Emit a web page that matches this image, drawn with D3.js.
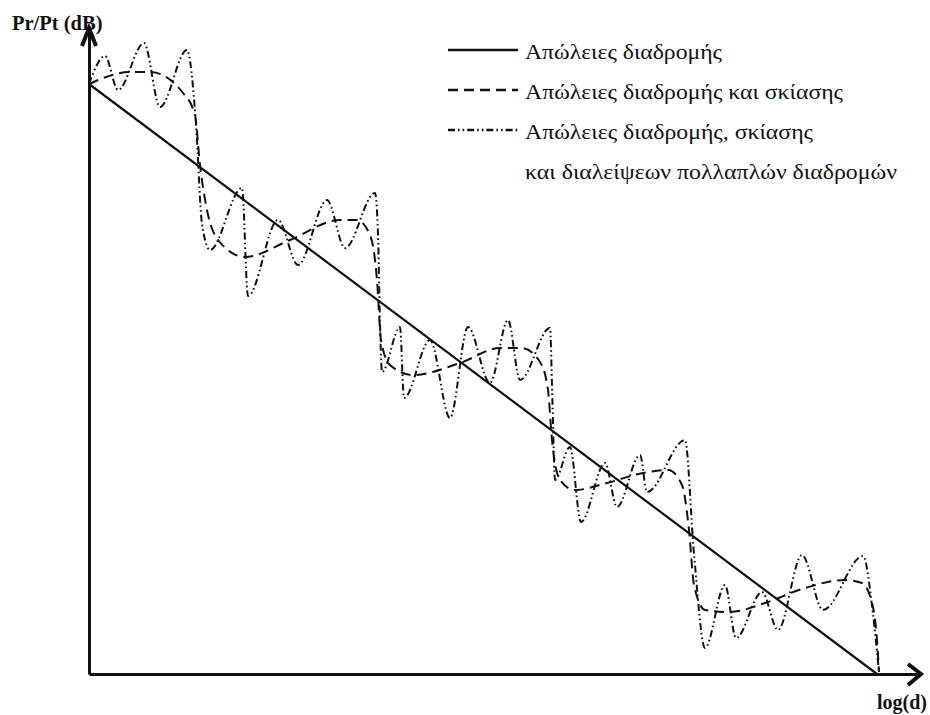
<!DOCTYPE html>
<html>
<head>
<meta charset="utf-8">
<script src="https://cdn.jsdelivr.net/npm/d3@7"></script>
<style>
  html, body { margin: 0; padding: 0; background: #ffffff; }
  svg { display: block; }
  svg text { font-family: "Liberation Serif", "DejaVu Serif", "Times New Roman", serif; }
</style>
</head>
<body>
<svg id="chart" width="930" height="715"></svg>
<script>
// ---------------- DATA (x = log(d) units, y = Pr/Pt in dB) ----------------
const pathLossX = [0, 7.88];
const pathLossY = [0, -59];

const shadowX = [0, 0.41, 0.61, 0.94, 1.06, 1.11, 1.17, 1.29, 1.56, 2.01, 2.51, 2.68, 2.81, 2.88, 2.92, 3.01,
  3.24, 3.71, 4.11, 4.33, 4.51, 4.59, 4.63, 4.71, 4.86, 5.18, 5.54, 5.79, 5.93, 6.00, 6.05, 6.16,
  6.41, 6.76, 7.16, 7.56, 7.73, 7.83, 7.88, 7.90];
const shadowY = [0, 1.2, 1.2, -0.9, -3.1, -8.1, -12.1, -15.6, -17.3, -15.6, -13.6, -13.6, -15.1, -19.6, -25.6, -28.1,
  -29.1, -27.9, -26.4, -26.4, -27.8, -30.6, -35.6, -39.6, -40.6, -39.9, -38.9, -38.6, -40.1, -44.6, -50.1, -52.6,
  -52.8, -51.9, -50.4, -49.6, -49.9, -51.9, -55.6, -58.8];

const multiX = [0, 0.16, 0.29, 0.55, 0.71, 0.98, 1.07, 1.13, 1.21,
  1.53, 1.59, 1.89, 2.09, 2.38, 2.56, 2.86, 2.89, 2.91, 2.93,
  3.11, 3.15, 3.41, 3.61, 3.79, 4.01, 4.19, 4.31, 4.61, 4.635, 4.66,
  4.81, 4.92, 5.16, 5.28, 5.51, 5.58, 5.96, 6.05, 6.16,
  6.36, 6.47, 6.73, 6.89, 7.13, 7.34, 7.74, 7.84, 7.90];
const multiY = [0, 2.8, -0.6, 4.1, -2.3, 3.4, -4.0, -14.0, -16.6,
  -10.4, -21.2, -13.6, -18.1, -11.6, -16.4, -10.9, -15.0, -24.0, -28.8,
  -24.3, -31.4, -25.6, -33.4, -24.3, -29.9, -23.6, -29.6, -24.4, -32.0, -39.6,
  -36.3, -43.8, -37.9, -42.3, -37.1, -40.8, -35.6, -47.0, -56.4,
  -50.1, -55.4, -50.8, -54.6, -47.1, -52.6, -47.2, -53.0, -58.8];

const legendLabels = [
  "Απώλειες διαδρομής",
  "Απώλειες διαδρομής και σκίασης",
  "Απώλειες διαδρομής, σκίασης",
  "και διαλείψεων πολλαπλών διαδρομών"
];
const yAxisTitle = "Pr/Pt (dB)";
const xAxisTitle = "log(d)";

// ---------------- LAYOUT ----------------
const svg = d3.select("#chart");
const ink = "#111";

const x = d3.scaleLinear().domain([0, 7.88]).range([89, 877]);
const y = d3.scaleLinear().domain([-59, 0]).range([674, 84]);

// axis scales extended to the arrow tips
const xAxisScale = d3.scaleLinear().domain([0, 8.32]).range([x(0), x(8.32)]);
const yAxisScale = d3.scaleLinear().domain([-59, 5.6]).range([y(-59), y(5.6)]);

const lineGen = (xs, ys) => d3.line()
  .x((d, i) => x(xs[i]))
  .y((d, i) => y(ys[i]))
  .curve(d3.curveMonotoneX)(xs);

// Axes
svg.append("g")
  .attr("transform", `translate(0,${y(-59)})`)
  .call(d3.axisBottom(xAxisScale).tickValues([]).tickSizeOuter(0))
  .call(g => g.select(".domain").attr("stroke", ink).attr("stroke-width", 3));
svg.append("g")
  .attr("transform", `translate(${x(0)},0)`)
  .call(d3.axisLeft(yAxisScale).tickValues([]).tickSizeOuter(0))
  .call(g => g.select(".domain").attr("stroke", ink).attr("stroke-width", 3));

// Arrow heads
const xTip = [xAxisScale(8.32), y(-59)];
svg.append("path")
  .attr("d", `M${xTip[0]-13},${xTip[1]-10} L${xTip[0]},${xTip[1]} L${xTip[0]-13},${xTip[1]+11}`)
  .attr("fill", "none").attr("stroke", ink).attr("stroke-width", 4);
const yTip = [x(0), yAxisScale(5.6)];
svg.append("path")
  .attr("d", `M${yTip[0]-7},${yTip[1]+18} L${yTip[0]},${yTip[1]} L${yTip[0]+7},${yTip[1]+18}`)
  .attr("fill", "none").attr("stroke", ink).attr("stroke-width", 4);

// Series
const dashStyle = "10,6";
const dashDotStyle = "7,3,1.6,3,1.6,3";

svg.append("path")
  .attr("d", lineGen(multiX, multiY))
  .attr("fill", "none").attr("stroke", ink).attr("stroke-width", 2)
  .attr("stroke-dasharray", dashDotStyle);

svg.append("path")
  .attr("d", lineGen(shadowX, shadowY))
  .attr("fill", "none").attr("stroke", ink).attr("stroke-width", 2)
  .attr("stroke-dasharray", dashStyle);

svg.append("path")
  .attr("d", d3.line().x((d, i) => x(pathLossX[i])).y((d, i) => y(pathLossY[i]))(pathLossX))
  .attr("fill", "none").attr("stroke", ink).attr("stroke-width", 2.2);

// Axis titles
svg.append("text")
  .attr("x", 12).attr("y", 30)
  .attr("font-weight", "bold").attr("font-size", 20.5)
  .attr("fill", ink).text(yAxisTitle);
svg.append("text")
  .attr("x", 877).attr("y", 709)
  .attr("font-weight", "bold").attr("font-size", 20)
  .attr("fill", ink).text(xAxisTitle);

// Legend (text widths fitted to the reference layout)
const legendRows = [
  { dash: null, label: legendLabels[0], ly: 50, w: 197 },
  { dash: dashStyle, label: legendLabels[1], ly: 90, w: 318 },
  { dash: dashDotStyle, label: legendLabels[2], ly: 130, w: 288 },
];
const leg = svg.append("g");
legendRows.forEach(r => {
  leg.append("line")
    .attr("x1", 448).attr("x2", 518).attr("y1", r.ly).attr("y2", r.ly)
    .attr("stroke", ink).attr("stroke-width", 2.4)
    .attr("stroke-dasharray", r.dash);
  leg.append("text")
    .attr("x", 525).attr("y", r.ly + 9)
    .attr("font-size", 22)
    .attr("textLength", r.w).attr("lengthAdjust", "spacingAndGlyphs")
    .attr("fill", ink).text(r.label);
});
leg.append("text")
  .attr("x", 525).attr("y", 130 + 9 + 40)
  .attr("font-size", 22)
  .attr("textLength", 372).attr("lengthAdjust", "spacingAndGlyphs")
  .attr("fill", ink).text(legendLabels[3]);
</script>
</body>
</html>
